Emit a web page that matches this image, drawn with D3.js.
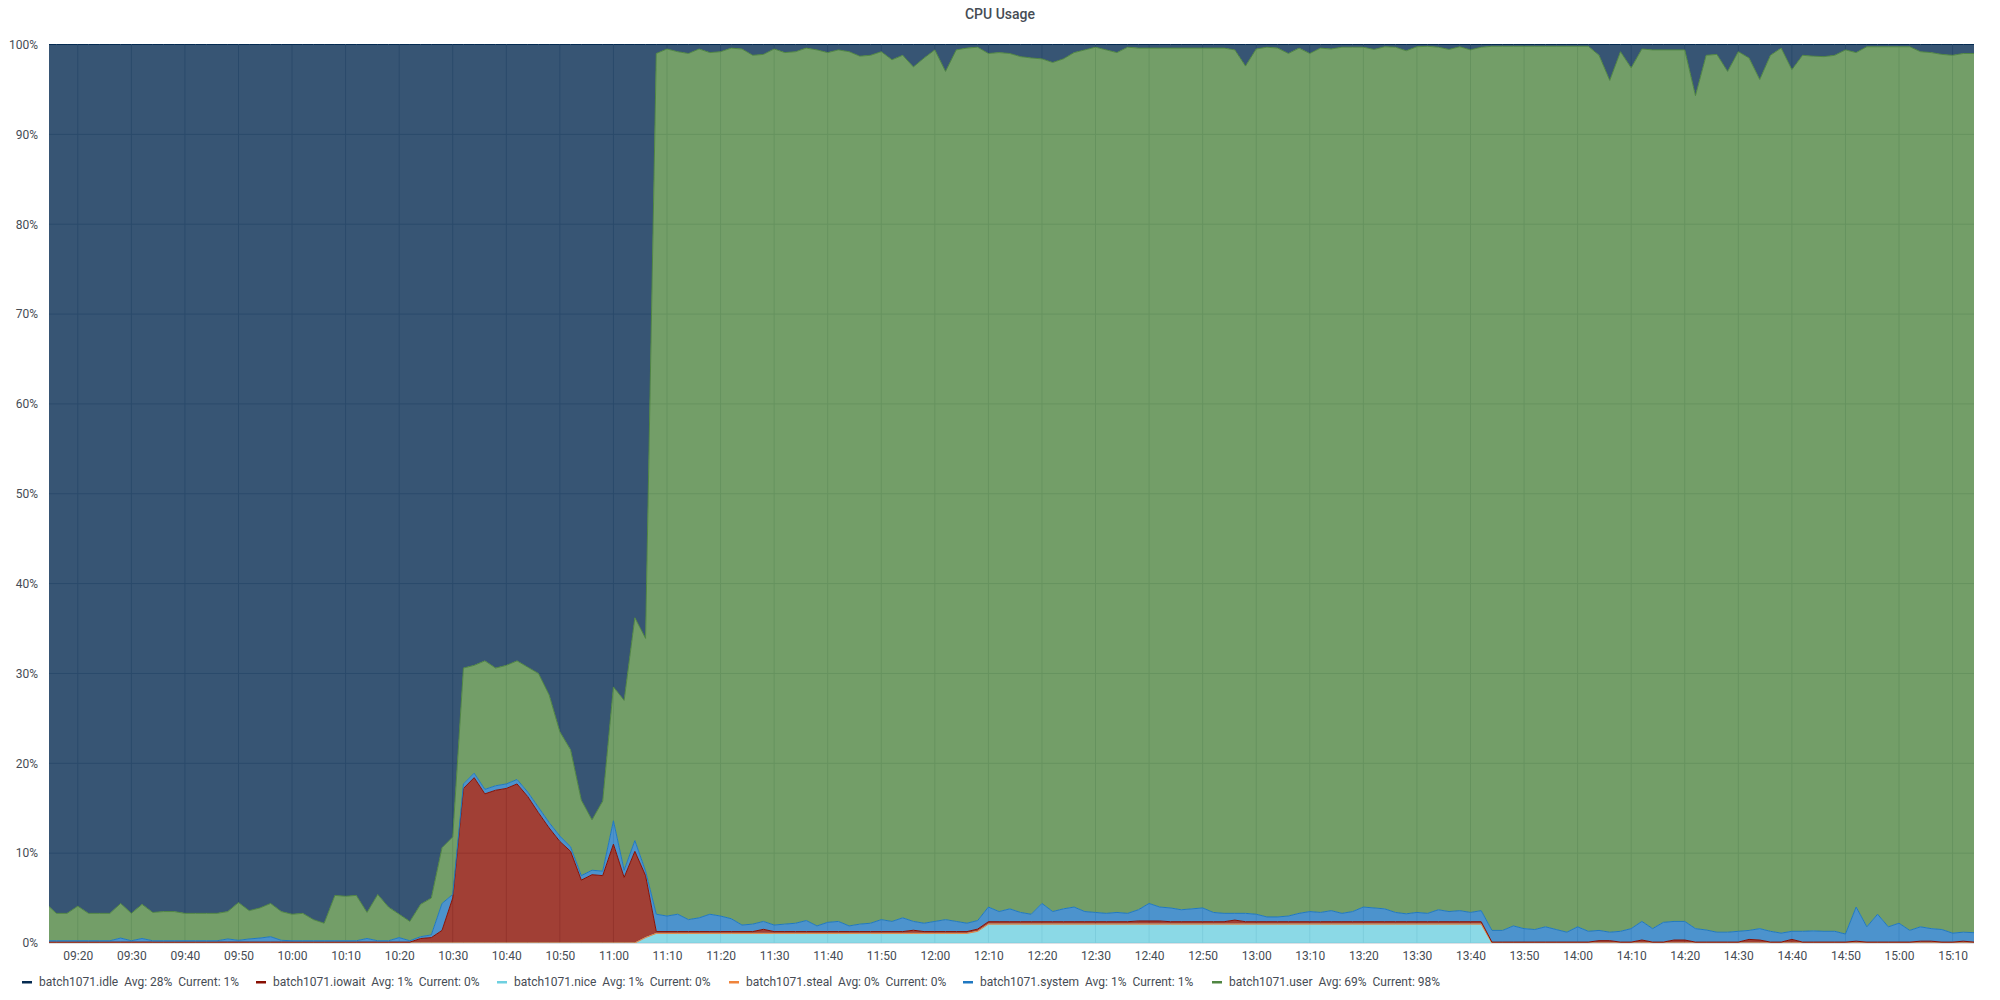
<!DOCTYPE html>
<html>
<head>
<meta charset="utf-8">
<script src="https://cdn.jsdelivr.net/npm/d3@7"></script>
<style>
    body { margin: 0; background: #fff; }
    text { font-family: Roboto, "Noto Sans", sans-serif; }
</style>
</head>
<body>
<script>
// samples every 2 minutes, first one at 09:14
const nice = [
    0, 0, 0, 0, 0, 0, 0, 0, 0, 0,
    0, 0, 0, 0, 0, 0, 0, 0, 0, 0,
    0, 0, 0, 0, 0, 0, 0, 0, 0, 0,
    0, 0, 0, 0, 0, 0, 0, 0, 0, 0,
    0, 0, 0, 0, 0, 0, 0, 0, 0, 0,
    0, 0, 0, 0, 0, 0, 0.6, 1.07, 1.07, 1.07,
    1.07, 1.07, 1.07, 1.07, 1.07, 1.07, 1.07, 1.07, 1.07, 1.07,
    1.07, 1.07, 1.07, 1.07, 1.07, 1.07, 1.07, 1.07, 1.07, 1.07,
    1.07, 1.07, 1.07, 1.07, 1.07, 1.07, 1.07, 1.3, 2.1, 2.1,
    2.1, 2.1, 2.1, 2.1, 2.1, 2.1, 2.1, 2.1, 2.1, 2.1,
    2.1, 2.1, 2.1, 2.1, 2.1, 2.1, 2.1, 2.1, 2.1, 2.1,
    2.1, 2.1, 2.1, 2.1, 2.1, 2.1, 2.1, 2.1, 2.1, 2.1,
    2.1, 2.1, 2.1, 2.1, 2.1, 2.1, 2.1, 2.1, 2.1, 2.1,
    2.1, 2.1, 2.1, 2.1, 2.1, 0, 0, 0, 0, 0,
    0, 0, 0, 0, 0, 0, 0, 0, 0, 0,
    0, 0, 0, 0, 0, 0, 0, 0, 0, 0,
    0, 0, 0, 0, 0, 0, 0, 0, 0, 0,
    0, 0, 0, 0, 0, 0, 0, 0, 0, 0,
    0
]

const steal = [
    0, 0, 0, 0, 0, 0, 0, 0, 0, 0,
    0, 0, 0, 0, 0, 0, 0, 0, 0, 0,
    0, 0, 0, 0, 0, 0, 0, 0, 0, 0,
    0, 0, 0, 0, 0, 0, 0, 0, 0, 0,
    0, 0, 0, 0, 0, 0, 0, 0, 0, 0,
    0, 0, 0, 0, 0, 0, 0, 0, 0, 0,
    0, 0, 0, 0, 0, 0, 0, 0, 0, 0,
    0, 0, 0, 0, 0, 0, 0, 0, 0, 0,
    0, 0, 0, 0, 0, 0, 0, 0, 0, 0,
    0, 0, 0, 0, 0, 0, 0, 0, 0, 0,
    0, 0, 0, 0, 0, 0, 0, 0, 0, 0,
    0, 0, 0, 0, 0, 0, 0, 0, 0, 0,
    0, 0, 0, 0, 0, 0, 0, 0, 0, 0,
    0, 0, 0, 0, 0, 0, 0, 0, 0, 0,
    0, 0, 0, 0, 0, 0, 0, 0, 0, 0,
    0, 0, 0, 0, 0, 0, 0, 0, 0, 0,
    0, 0, 0, 0, 0, 0, 0, 0, 0, 0,
    0, 0, 0, 0, 0, 0, 0, 0, 0, 0,
    0
]

const iowait = [
    0.1, 0.1, 0.1, 0.1, 0.1, 0.1, 0.1, 0.1, 0.1, 0.1,
    0.1, 0.1, 0.1, 0.1, 0.1, 0.1, 0.1, 0.1, 0.1, 0.1,
    0.1, 0.1, 0.1, 0.1, 0.1, 0.1, 0.1, 0.1, 0.1, 0.1,
    0.1, 0.1, 0.1, 0.1, 0.1, 0.5, 0.6, 1.4, 5.0, 17.2,
    18.4, 16.6, 17.0, 17.2, 17.7, 16.3, 14.5, 12.8, 11.3, 10.2,
    7.0, 7.6, 7.5, 11.0, 7.3, 10.2, 6.9, 0.2, 0.2, 0.2,
    0.2, 0.2, 0.2, 0.2, 0.2, 0.2, 0.2, 0.45, 0.2, 0.2,
    0.2, 0.2, 0.2, 0.2, 0.2, 0.2, 0.2, 0.2, 0.2, 0.2,
    0.2, 0.35, 0.2, 0.2, 0.2, 0.2, 0.2, 0.25, 0.27, 0.27,
    0.27, 0.27, 0.27, 0.27, 0.27, 0.27, 0.27, 0.27, 0.27, 0.27,
    0.27, 0.27, 0.35, 0.35, 0.35, 0.27, 0.27, 0.27, 0.27, 0.27,
    0.27, 0.45, 0.27, 0.27, 0.27, 0.27, 0.27, 0.27, 0.27, 0.27,
    0.27, 0.27, 0.27, 0.27, 0.27, 0.27, 0.27, 0.27, 0.27, 0.27,
    0.27, 0.27, 0.27, 0.27, 0.27, 0.1, 0.1, 0.1, 0.1, 0.1,
    0.1, 0.1, 0.1, 0.1, 0.1, 0.26, 0.26, 0.1, 0.1, 0.33,
    0.1, 0.1, 0.33, 0.33, 0.1, 0.1, 0.1, 0.1, 0.1, 0.4,
    0.33, 0.1, 0.1, 0.4, 0.1, 0.1, 0.1, 0.1, 0.1, 0.2,
    0.1, 0.1, 0.1, 0.1, 0.1, 0.2, 0.2, 0.1, 0.1, 0.2,
    0.1
]

const system = [
    0.15, 0.15, 0.15, 0.15, 0.15, 0.15, 0.15, 0.45, 0.15, 0.4,
    0.15, 0.15, 0.15, 0.15, 0.15, 0.15, 0.15, 0.35, 0.2, 0.35,
    0.45, 0.6, 0.2, 0.15, 0.15, 0.15, 0.15, 0.15, 0.15, 0.15,
    0.4, 0.15, 0.15, 0.5, 0.15, 0.2, 0.3, 3.0, 0.4, 0.5,
    0.5, 0.5, 0.5, 0.5, 0.5, 0.5, 0.6, 0.6, 0.6, 0.5,
    0.5, 0.5, 0.5, 2.6, 0.8, 1.2, 0.5, 1.93, 1.73, 1.93,
    1.33, 1.53, 1.93, 1.73, 1.43, 0.73, 0.83, 0.88, 0.73, 0.83,
    0.93, 1.23, 0.63, 1.03, 1.13, 0.63, 0.83, 0.93, 1.33, 1.13,
    1.53, 0.98, 0.93, 1.13, 1.33, 1.13, 0.93, 0.95, 1.63, 1.13,
    1.43, 1.03, 0.83, 2.03, 1.13, 1.43, 1.63, 1.13, 1.03, 0.93,
    1.03, 0.93, 1.25, 1.95, 1.55, 1.53, 1.33, 1.43, 1.53, 1.03,
    0.93, 0.75, 0.93, 0.83, 0.53, 0.53, 0.63, 0.93, 1.13, 1.03,
    1.23, 0.93, 1.13, 1.63, 1.53, 1.43, 1.03, 0.88, 1.03, 0.93,
    1.33, 1.13, 1.23, 1.03, 1.23, 1.3, 1.3, 1.8, 1.5, 1.4,
    1.7, 1.4, 1.1, 1.7, 1.2, 1.14, 0.94, 1.2, 1.5, 2.07,
    1.5, 2.2, 2.07, 2.07, 1.5, 1.35, 1.1, 1.1, 1.2, 1.0,
    1.27, 1.2, 1.0, 0.9, 1.2, 1.25, 1.2, 1.2, 0.9, 3.8,
    1.7, 3.1, 1.7, 2.1, 1.3, 1.6, 1.4, 1.4, 1.0, 1.0,
    1.05
]

const user = [
    4.15, 3.05, 3.05, 3.85, 3.05, 3.05, 3.05, 3.85, 3.05, 3.8,
    3.15, 3.25, 3.25, 3.05, 3.05, 3.05, 3.05, 3.05, 4.2, 3.15,
    3.35, 3.7, 3.2, 2.95, 3.05, 2.35, 1.95, 5.05, 4.95, 5.05,
    2.9, 5.15, 3.75, 2.6, 2.15, 3.6, 4.1, 6.2, 6.4, 12.9,
    12.0, 14.3, 13.1, 13.2, 13.2, 13.9, 14.9, 14.2, 11.6, 10.8,
    8.4, 5.6, 7.8, 14.9, 18.9, 24.8, 25.9, 95.8, 96.5, 96.0,
    96.4, 96.7, 95.9, 96.2, 96.9, 97.5, 96.7, 96.5, 97.5, 97.0,
    97.0, 97.1, 97.5, 96.8, 97.0, 97.3, 96.6, 96.6, 96.6, 95.9,
    96.0, 95.1, 96.3, 97.0, 94.4, 97.0, 97.4, 97.2, 95.0, 95.6,
    95.2, 95.25, 95.3, 94.0, 94.5, 94.6, 95.1, 95.9, 96.3, 96.1,
    95.7, 96.4, 95.9, 95.2, 95.6, 95.7, 95.9, 95.8, 95.7, 96.2,
    96.3, 96.1, 94.3, 96.3, 96.8, 96.7, 96.0, 96.3, 95.5, 96.2,
    95.9, 96.4, 96.2, 95.7, 95.55, 95.95, 96.3, 96.05, 96.35, 96.5,
    96.0, 95.95, 96.15, 96.0, 96.1, 98.4, 98.4, 97.9, 98.2, 98.3,
    98.0, 98.3, 98.6, 98.0, 98.5, 97.4, 94.8, 97.9, 95.8, 97.1,
    97.8, 97.1, 97.0, 97.0, 92.7, 97.35, 97.7, 95.8, 97.9, 97.1,
    94.5, 97.5, 98.5, 95.9, 97.5, 97.35, 97.35, 97.5, 98.4, 95.1,
    97.95, 96.55, 97.95, 97.55, 98.35, 97.4, 97.5, 97.4, 97.7, 97.8,
    97.85
]

const idle = [
    95.6, 96.7, 96.7, 95.9, 96.7, 96.7, 96.7, 95.6, 96.7, 95.7,
    96.6, 96.5, 96.5, 96.7, 96.7, 96.7, 96.7, 96.5, 95.5, 96.4,
    96.1, 95.6, 96.5, 96.8, 96.7, 97.4, 97.8, 94.7, 94.8, 94.7,
    96.6, 94.6, 96.0, 96.8, 97.6, 95.7, 95.0, 89.4, 88.2, 69.4,
    69.1, 68.6, 69.4, 69.1, 68.6, 69.3, 70.0, 72.4, 76.5, 78.5,
    84.1, 86.3, 84.2, 71.5, 73.0, 63.8, 66.1, 1.0, 0.5, 0.8,
    1.0, 0.5, 0.9, 0.8, 0.4, 0.5, 1.2, 1.1, 0.5, 0.9,
    0.8, 0.4, 0.6, 0.9, 0.6, 0.8, 1.3, 1.2, 0.8, 1.7,
    1.2, 2.5, 1.5, 0.6, 3.0, 0.6, 0.4, 0.3, 1.0, 0.9,
    1.0, 1.35, 1.5, 1.6, 2.0, 1.6, 0.9, 0.6, 0.3, 0.6,
    0.9, 0.3, 0.4, 0.4, 0.4, 0.4, 0.4, 0.4, 0.4, 0.4,
    0.4, 0.6, 2.4, 0.5, 0.3, 0.4, 1.0, 0.4, 1.0, 0.4,
    0.5, 0.3, 0.3, 0.3, 0.55, 0.25, 0.3, 0.7, 0.25, 0.2,
    0.3, 0.55, 0.25, 0.6, 0.3, 0.2, 0.2, 0.2, 0.2, 0.2,
    0.2, 0.2, 0.2, 0.2, 0.2, 1.2, 4.0, 0.8, 2.6, 0.5,
    0.6, 0.6, 0.6, 0.6, 5.7, 1.2, 1.1, 3.0, 0.8, 1.5,
    3.9, 1.2, 0.4, 2.8, 1.2, 1.3, 1.35, 1.2, 0.6, 0.9,
    0.25, 0.25, 0.25, 0.25, 0.25, 0.8, 0.9, 1.1, 1.2, 1.0,
    1.0
]

const xTickLabels = [
    "09:20", "09:30", "09:40", "09:50", "10:00", "10:10", "10:20", "10:30", "10:40", "10:50",
    "11:00", "11:10", "11:20", "11:30", "11:40", "11:50", "12:00", "12:10", "12:20", "12:30",
    "12:40", "12:50", "13:00", "13:10", "13:20", "13:30", "13:40", "13:50", "14:00", "14:10",
    "14:20", "14:30", "14:40", "14:50", "15:00", "15:10"
]
const yTicks = [0, 10, 20, 30, 40, 50, 60, 70, 80, 90, 100]

const legendNames = ["batch1071.idle", "batch1071.iowait", "batch1071.nice", "batch1071.steal", "batch1071.system", "batch1071.user"]
const legendAvg = ["28%", "1%", "1%", "0%", "1%", "69%"]
const legendCurrent = ["1%", "0%", "0%", "0%", "1%", "98%"]

// layout
const plotLeft = 49, plotRight = 1974, plotTop = 44.5, plotBottom = 943
const legendX = [22, 256, 497, 729, 963, 1212]
const colors = {
    idle: "#052B51",
    iowait: "#890F02",
    nice: "#6ED0E0",
    steal: "#EF843C",
    system: "#1F78C1",
    user: "#508642"
}
const legendKeys = ["idle", "iowait", "nice", "steal", "system", "user"]
const stackKeys = ["nice", "steal", "iowait", "system", "user", "idle"]

const day = (h, m) => new Date(2019, 0, 1, h, m)
const parseHM = d3.timeParse("%H:%M")
const atDay = s => { const p = parseHM(s); return day(p.getHours(), p.getMinutes()) }

const times = idle.map((d, i) => day(9, 14 + i * 2))
const table = times.map((t, i) => ({
    time: t, nice: nice[i], steal: steal[i], iowait: iowait[i],
    system: system[i], user: user[i], idle: idle[i]
}))

const xScale = d3.scaleTime().domain([day(9, 15), day(15, 14)]).range([51, plotRight])
const yScale = d3.scaleLinear().domain([0, 100]).range([plotBottom, plotTop])

const layers = d3.stack().keys(stackKeys)(table)

const svg = d3.select("body")
    .append("svg")
    .attr("width", 2000)
    .attr("height", 1000)

svg.append("defs").append("clipPath")
    .attr("id", "plot")
    .append("rect")
    .attr("x", plotLeft)
    .attr("y", plotTop - 2)
    .attr("width", plotRight - plotLeft)
    .attr("height", plotBottom - plotTop + 2)

// title
svg.append("text")
    .attr("x", 1000)
    .attr("y", 19)
    .attr("text-anchor", "middle")
    .attr("font-size", 14)
    .attr("font-weight", 500)
    .attr("fill", "#464c54")
    .text("CPU Usage")

// grid under the series, shows faintly through the fills
const grid = svg.append("g")
grid.selectAll(".vgrid")
    .data(xTickLabels)
    .enter()
    .append("line")
    .attr("x1", d => xScale(atDay(d)))
    .attr("x2", d => xScale(atDay(d)))
    .attr("y1", plotTop)
    .attr("y2", plotBottom)
    .attr("stroke", "#b9c2cc")
    .attr("stroke-width", 1)
grid.selectAll(".hgrid")
    .data(yTicks)
    .enter()
    .append("line")
    .attr("x1", plotLeft)
    .attr("x2", plotRight)
    .attr("y1", d => yScale(d))
    .attr("y2", d => yScale(d))
    .attr("stroke", "#b9c2cc")
    .attr("stroke-width", 1)

const area = d3.area()
    .x(d => xScale(d.data.time))
    .y0(d => yScale(d[0]))
    .y1(d => yScale(d[1]))

const line = d3.line()
    .x(d => xScale(d.data.time))
    .y(d => yScale(d[1]))

const plot = svg.append("g").attr("clip-path", "url(#plot)")

plot.selectAll(".area")
    .data(layers)
    .enter()
    .append("path")
    .attr("d", area)
    .attr("fill", d => colors[d.key])
    .attr("fill-opacity", 0.8)

plot.selectAll(".line")
    .data(layers)
    .enter()
    .append("path")
    .attr("d", line)
    .attr("fill", "none")
    .attr("stroke", d => colors[d.key])
    .attr("stroke-width", 1)

// axes
const xAxis = d3.axisBottom(xScale)
    .tickValues(xTickLabels.map(atDay))
    .tickFormat(d3.timeFormat("%H:%M"))
    .tickSize(0)
    .tickPadding(8)

svg.append("g")
    .attr("transform", "translate(0," + plotBottom + ")")
    .call(xAxis)
    .call(g => g.select(".domain").remove())
    .selectAll("text")
    .attr("font-size", 12)
    .attr("font-family", "Roboto, sans-serif")
    .attr("fill", "#464c54")

const yAxis = d3.axisLeft(yScale)
    .tickValues(yTicks)
    .tickFormat(d => d + "%")
    .tickSize(0)
    .tickPadding(11)

svg.append("g")
    .attr("transform", "translate(" + plotLeft + ",0)")
    .call(yAxis)
    .call(g => g.select(".domain").remove())
    .selectAll("text")
    .attr("font-size", 12)
    .attr("font-family", "Roboto, sans-serif")
    .attr("fill", "#464c54")

// legend
const legend = svg.append("g")
    .selectAll("g")
    .data(legendKeys)
    .enter()
    .append("g")
    .attr("transform", (d, i) => "translate(" + legendX[i] + ",986)")

legend.append("rect")
    .attr("x", 0)
    .attr("y", -5)
    .attr("width", 10)
    .attr("height", 2.5)
    .attr("fill", d => colors[d])

legend.append("text")
    .attr("x", 17)
    .attr("y", 0)
    .attr("font-size", 12)
    .attr("fill", "#464c54")
    .style("white-space", "pre")
    .text((d, i) => legendNames[i] + "  Avg: " + legendAvg[i] + "  Current: " + legendCurrent[i])
</script>
</body>
</html>
